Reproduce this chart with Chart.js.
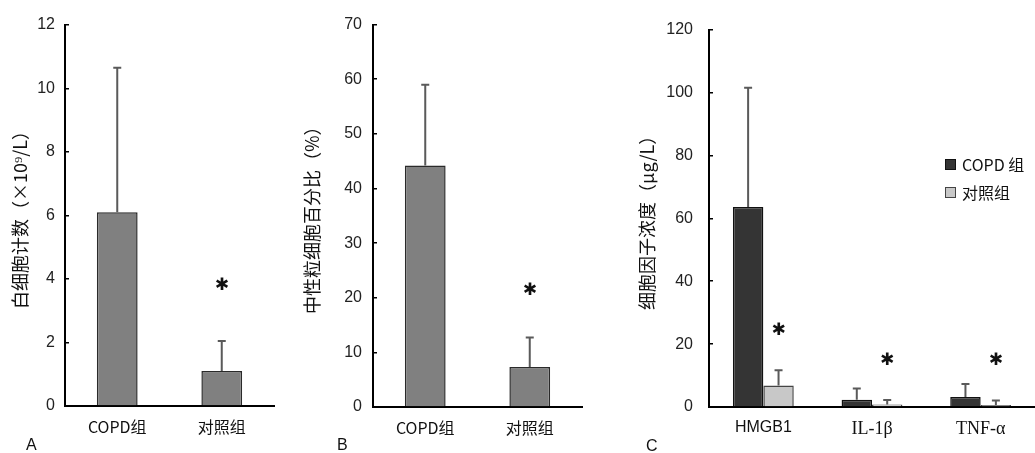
<!DOCTYPE html>
<html><head><meta charset="utf-8">
<script src="https://cdn.jsdelivr.net/npm/chart.js@4.4.1/dist/chart.umd.min.js"></script>
<style>
body{margin:0;background:#fff;width:1035px;height:453px;position:relative;overflow:hidden;}
canvas{position:absolute;top:0;}
.lab{position:absolute;font:16px "Liberation Sans",sans-serif;color:#111;line-height:16px;}
#legend{position:absolute;left:945px;top:150px;font:16px "Noto Sans CJK SC",sans-serif;color:#111;}
.li{display:flex;align-items:center;height:28px;}
.sw{width:11px;height:11px;border:1px solid #222;margin-right:6px;box-sizing:border-box;}
</style></head>
<body>
<canvas id="cA" width="300" height="453" style="left:0px"></canvas>
<canvas id="cB" width="300" height="453" style="left:300px"></canvas>
<canvas id="cC" width="415" height="453" style="left:620px"></canvas>
<div class="lab" style="left:26px;top:437px">A</div>
<div class="lab" style="left:337px;top:437px">B</div>
<div class="lab" style="left:646px;top:438px">C</div>
<div id="legend"></div>
<script>
// ---- data ----
const groupLabels = ['COPD组', '对照组'];
const wbcMean = [6.1, 1.1];
const wbcSD = [4.55, 0.95];
const wbcSig = [false, true];
const wbcTicks = [0, 2, 4, 6, 8, 10, 12];

const neuMean = [44.2, 7.3];
const neuSD = [14.8, 5.4];
const neuSig = [false, true];
const neuTicks = [0, 10, 20, 30, 40, 50, 60, 70];

const cytokines = ['HMGB1', 'IL-1β', 'TNF-α'];
const seriesNames = ['COPD 组', '对照组'];
const copdMean = [63.6, 2.3, 3.2];
const copdSD = [37.9, 3.6, 4.1];
const copdSig = [false, false, false];
const ctrlMean = [6.8, 0.8, 0.6];
const ctrlSD = [4.9, 1.4, 1.5];
const ctrlSig = [true, true, true];
const cytoTicks = [0, 20, 40, 60, 80, 100, 120];

// ---- error bar + significance plugin ----
const errPlugin = {
  id: 'errbars',
  afterDatasetsDraw(chart, args, opts) {
    const ctx = chart.ctx, y = chart.scales.y;
    chart.data.datasets.forEach((ds, i) => {
      const meta = chart.getDatasetMeta(i);
      meta.data.forEach((bar, j) => {
        const top = y.getPixelForValue(ds.data[j] + ds.sd[j]);
        ctx.save();
        ctx.strokeStyle = '#5a5a5a';
        ctx.lineWidth = 2;
        ctx.beginPath();
        ctx.moveTo(bar.x, bar.y);
        ctx.lineTo(bar.x, top);
        ctx.moveTo(bar.x - opts.cap, top);
        ctx.lineTo(bar.x + opts.cap, top);
        ctx.stroke();
        if (ds.sig && ds.sig[j]) {
          ctx.fillStyle = '#111';
          ctx.font = 'bold 17px "DejaVu Sans"';
          ctx.textAlign = 'center';
          ctx.textBaseline = 'middle';
          ctx.fillText('✱', bar.x, top - opts.gap);
        }
        ctx.restore();
      });
    });
  }
};

function makePanel(id, cfg) {
  return new Chart(document.getElementById(id), {
    type: 'bar',
    data: { labels: cfg.labels, datasets: cfg.datasets },
    plugins: [errPlugin],
    options: {
      responsive: false,
      animation: false,
      layout: { padding: { left: 0, right: cfg.padRight, top: cfg.padTop, bottom: 0 } },
      plugins: {
        legend: { display: false },
        tooltip: { enabled: false },
        errbars: { cap: 4, gap: cfg.gap }
      },
      scales: {
        x: {
          type: 'category',
          offset: true,
          grid: { display: false, drawTicks: false },
          border: { display: true, color: '#000', width: 2 },
          ticks: { color: '#111', padding: 11, font: cfg.xFont },
          afterFit: s => { s.height = cfg.xHeight; }
        },
        y: {
          min: cfg.ticks[0],
          max: cfg.ticks[cfg.ticks.length - 1],
          afterBuildTicks: s => { s.ticks = cfg.ticks.map(v => ({ value: v })); },
          grid: { display: true, drawOnChartArea: false, drawTicks: true, tickLength: -4, color: '#000', lineWidth: 1.5 },
          border: { display: true, color: '#000', width: 2 },
          ticks: { color: '#222', padding: cfg.tickPad, font: { family: 'Liberation Sans', size: 16 } },
          title: { display: true, text: cfg.title, color: '#111', padding: { top: cfg.titlePad, bottom: 0 },
                   font: { family: 'Noto Sans CJK SC', size: 18 } },
          afterFit: s => { s.width = cfg.yWidth; }
        }
      }
    }
  });
}

const cjkTick = { family: 'Noto Sans CJK SC', size: 16 };

makePanel('cA', {
  labels: groupLabels,
  datasets: [{ data: wbcMean, sd: wbcSD, sig: wbcSig, backgroundColor: '#808080', borderColor: '#2a2a2a',
               borderWidth: 1.5, barPercentage: 0.39, categoryPercentage: 1 }],
  ticks: wbcTicks, title: '白细胞计数（×10⁹/L）',
  padRight: 26, padTop: 25, xHeight: 47, yWidth: 65, tickPad: 14, titlePad: 9, gap: 55,
  xFont: cjkTick
});

makePanel('cB', {
  labels: groupLabels,
  datasets: [{ data: neuMean, sd: neuSD, sig: neuSig, backgroundColor: '#808080', borderColor: '#2a2a2a',
               borderWidth: 1.5, barPercentage: 0.39, categoryPercentage: 1 }],
  ticks: neuTicks, title: '中性粒细胞百分比（%）',
  padRight: 18, padTop: 16, xHeight: 46, yWidth: 73, tickPad: 15, titlePad: 1, gap: 47,
  xFont: cjkTick
});

const chartC = makePanel('cC', {
  labels: cytokines,
  datasets: [
    { label: seriesNames[0], data: copdMean, sd: copdSD, sig: copdSig, backgroundColor: '#343434', borderColor: '#111',
      borderWidth: 1.5, barPercentage: 1, categoryPercentage: 0.56 },
    { label: seriesNames[1], data: ctrlMean, sd: ctrlSD, sig: ctrlSig, backgroundColor: '#c8c8c8', borderColor: '#444',
      borderWidth: 1.5, barPercentage: 1, categoryPercentage: 0.56 }
  ],
  ticks: cytoTicks, title: '细胞因子浓度（μg/L）',
  padRight: 0, padTop: 18, xHeight: 46, yWidth: 89, tickPad: 20, titlePad: 16, gap: 40,
  xFont: c => c.index === 0 ? { family: 'Liberation Sans', size: 16 } : { family: 'Liberation Serif', size: 18 }
});

// HTML legend built from chart C datasets
const lg = document.getElementById('legend');
chartC.data.datasets.forEach(ds => {
  const row = document.createElement('div'); row.className = 'li';
  const sw = document.createElement('span'); sw.className = 'sw';
  sw.style.background = ds.backgroundColor; sw.style.borderColor = ds.borderColor;
  const t = document.createElement('span'); t.textContent = ds.label;
  row.appendChild(sw); row.appendChild(t); lg.appendChild(row);
});
</script>
</body></html>
